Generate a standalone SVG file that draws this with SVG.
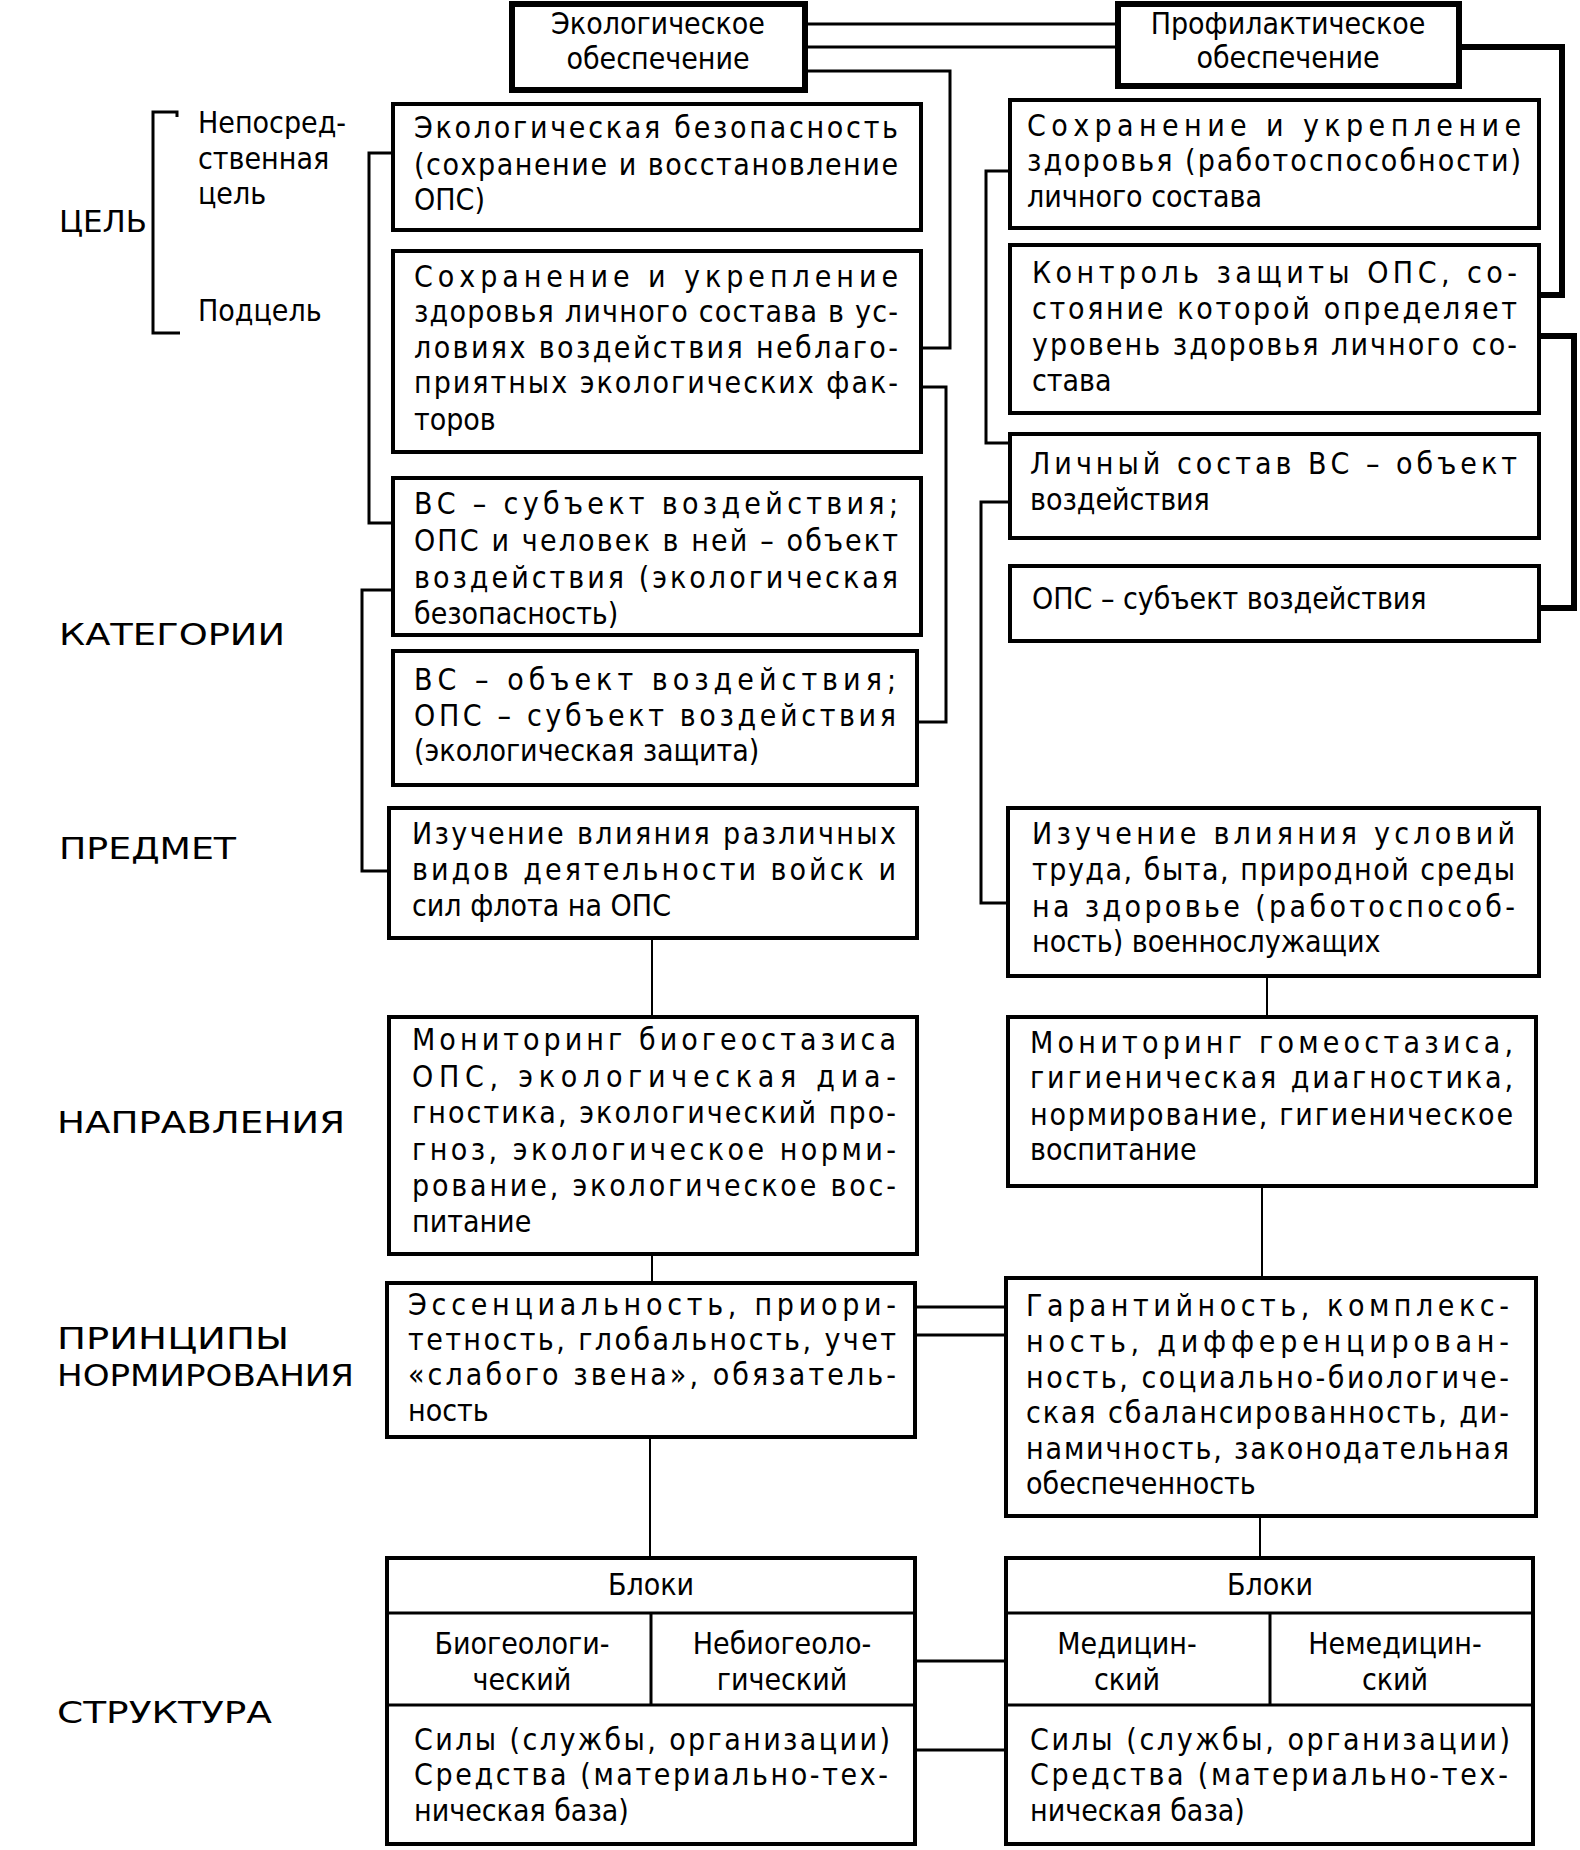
<svg xmlns="http://www.w3.org/2000/svg" width="1580" height="1850" viewBox="0 0 1580 1850">
<style>
.box{fill:#fff;stroke:#000;stroke-width:4}
.hbox{fill:#fff;stroke:#000;stroke-width:6}
.t{font-family:"Liberation Sans Narrow","DejaVu Sans Condensed","Liberation Sans",sans-serif;font-size:30px;fill:#000}
.c{text-anchor:middle}
.lbl{font-family:"Liberation Sans Narrow","DejaVu Sans Condensed","Liberation Sans",sans-serif;font-size:30px;fill:#000}
.ln{stroke:#000;fill:none;stroke-width:3}
.thin{stroke:#000;fill:none;stroke-width:2}
.thick{stroke:#000;fill:none;stroke-width:6}
</style>
<rect width="1580" height="1850" fill="#fff"/>

<g id="connectors">
<!-- top links -->
<line class="ln" x1="805" y1="24" x2="1118" y2="24"/>
<line class="ln" x1="805" y1="47" x2="1118" y2="47"/>
<polyline class="ln" points="805,71 950,71 950,348 921,348"/>
<polyline class="thick" points="1459,47 1562,47 1562,295 1539,295"/>
<polyline class="thick" points="1539,336 1574,336 1574,608 1539,608"/>
<!-- left column brackets -->
<polyline class="ln" points="393,153 369,153 369,523 393,523"/>
<polyline class="ln" points="393,590 362,590 362,871 389,871"/>
<polyline class="ln" points="921,387 946,387 946,722 917,722"/>
<!-- right column brackets -->
<polyline class="ln" points="1010,171 986,171 986,443 1010,443"/>
<polyline class="ln" points="1010,502 981,502 981,903 1008,903"/>
<!-- verticals -->
<line class="thin" x1="652" y1="938" x2="652" y2="1017"/>
<line class="thin" x1="652" y1="1254" x2="652" y2="1283"/>
<line class="thin" x1="650" y1="1437" x2="650" y2="1558"/>
<line class="thin" x1="1267" y1="976" x2="1267" y2="1017"/>
<line class="thin" x1="1262" y1="1186" x2="1262" y2="1278"/>
<line class="thin" x1="1260" y1="1516" x2="1260" y2="1558"/>
<!-- horizontals -->
<line class="ln" x1="915" y1="1307" x2="1006" y2="1307"/>
<line class="ln" x1="915" y1="1335" x2="1006" y2="1335"/>
<line class="ln" x1="915" y1="1661" x2="1006" y2="1661"/>
<line class="ln" x1="915" y1="1750" x2="1006" y2="1750"/>
<!-- goal bracket -->
<polyline class="ln" points="177,117 177,112 153,112 153,333 180,333"/>
</g>

<g id="labels">
<text class="lbl" x="59" y="232" textLength="88" lengthAdjust="spacingAndGlyphs">ЦЕЛЬ</text>
<text class="t" x="198" y="133">Непосред-</text>
<text class="t" x="198" y="169">ственная</text>
<text class="t" x="198" y="204">цель</text>
<text class="t" x="198" y="321">Подцель</text>
<text class="lbl" x="59" y="645" textLength="226" lengthAdjust="spacingAndGlyphs">КАТЕГОРИИ</text>
<text class="lbl" x="59" y="859" textLength="177" lengthAdjust="spacingAndGlyphs">ПРЕДМЕТ</text>
<text class="lbl" x="57" y="1133" textLength="288" lengthAdjust="spacingAndGlyphs">НАПРАВЛЕНИЯ</text>
<text class="lbl" x="57" y="1349" textLength="232" lengthAdjust="spacingAndGlyphs">ПРИНЦИПЫ</text>
<text class="lbl" x="57" y="1386" textLength="297" lengthAdjust="spacingAndGlyphs">НОРМИРОВАНИЯ</text>
<text class="lbl" x="57" y="1723" textLength="215" lengthAdjust="spacingAndGlyphs">СТРУКТУРА</text>
</g>

<g id="eco-top">
<rect class="hbox" x="512" y="4" width="293" height="86"/>
<text class="t c" x="658" y="34">Экологическое</text>
<text class="t c" x="658" y="69">обеспечение</text>
</g>

<g id="prof-top">
<rect class="hbox" x="1118" y="4" width="341" height="82"/>
<text class="t c" x="1288" y="34">Профилактическое</text>
<text class="t c" x="1288" y="68">обеспечение</text>
</g>

<g id="l1">
<rect class="box" x="393" y="104" width="528" height="126"/>
<text class="t" x="414" y="138" textLength="484" lengthAdjust="spacing">Экологическая безопасность</text>
<text class="t" x="414" y="175" textLength="484" lengthAdjust="spacing">(сохранение и восстановление</text>
<text class="t" x="414" y="210">ОПС)</text>
</g>

<g id="l2">
<rect class="box" x="393" y="251" width="528" height="201"/>
<text class="t" x="414" y="287" textLength="484" lengthAdjust="spacing">Сохранение и укрепление</text>
<text class="t" x="414" y="322" textLength="484" lengthAdjust="spacing">здоровья личного состава в ус-</text>
<text class="t" x="414" y="358" textLength="484" lengthAdjust="spacing">ловиях воздействия неблаго-</text>
<text class="t" x="414" y="393" textLength="484" lengthAdjust="spacing">приятных экологических фак-</text>
<text class="t" x="414" y="430">торов</text>
</g>

<g id="l3">
<rect class="box" x="393" y="478" width="528" height="157"/>
<text class="t" x="414" y="514" textLength="484" lengthAdjust="spacing">ВС – субъект воздействия;</text>
<text class="t" x="414" y="551" textLength="484" lengthAdjust="spacing">ОПС и человек в ней – объект</text>
<text class="t" x="414" y="588" textLength="484" lengthAdjust="spacing">воздействия (экологическая</text>
<text class="t" x="414" y="624">безопасность)</text>
</g>

<g id="l4">
<rect class="box" x="393" y="651" width="524" height="134"/>
<text class="t" x="414" y="690" textLength="482" lengthAdjust="spacing">ВС – объект воздействия;</text>
<text class="t" x="414" y="726" textLength="482" lengthAdjust="spacing">ОПС – субъект воздействия</text>
<text class="t" x="414" y="761">(экологическая защита)</text>
</g>

<g id="l5">
<rect class="box" x="389" y="808" width="528" height="130"/>
<text class="t" x="412" y="844" textLength="484" lengthAdjust="spacing">Изучение влияния различных</text>
<text class="t" x="412" y="880" textLength="484" lengthAdjust="spacing">видов деятельности войск и</text>
<text class="t" x="412" y="916">сил флота на ОПС</text>
</g>

<g id="l6">
<rect class="box" x="389" y="1017" width="528" height="237"/>
<text class="t" x="412" y="1050" textLength="484" lengthAdjust="spacing">Мониторинг биогеостазиса</text>
<text class="t" x="412" y="1087" textLength="484" lengthAdjust="spacing">ОПС, экологическая диа-</text>
<text class="t" x="412" y="1123" textLength="484" lengthAdjust="spacing">гностика, экологический про-</text>
<text class="t" x="412" y="1160" textLength="484" lengthAdjust="spacing">гноз, экологическое норми-</text>
<text class="t" x="412" y="1196" textLength="484" lengthAdjust="spacing">рование, экологическое вос-</text>
<text class="t" x="412" y="1232">питание</text>
</g>

<g id="l7">
<rect class="box" x="387" y="1283" width="528" height="154"/>
<text class="t" x="408" y="1315" textLength="488" lengthAdjust="spacing">Эссенциальность, приори-</text>
<text class="t" x="408" y="1350" textLength="488" lengthAdjust="spacing">тетность, глобальность, учет</text>
<text class="t" x="408" y="1385" textLength="488" lengthAdjust="spacing">«слабого звена», обязатель-</text>
<text class="t" x="408" y="1421">ность</text>
</g>

<g id="l8">
<rect class="box" x="387" y="1558" width="528" height="286"/>
<line class="ln" x1="387" y1="1613" x2="915" y2="1613"/>
<line class="ln" x1="387" y1="1705" x2="915" y2="1705"/>
<line class="ln" x1="651" y1="1613" x2="651" y2="1705"/>
<text class="t c" x="651" y="1595">Блоки</text>
<text class="t c" x="522" y="1654">Биогеологи-</text>
<text class="t c" x="522" y="1690">ческий</text>
<text class="t c" x="782" y="1654">Небиогеоло-</text>
<text class="t c" x="782" y="1690">гический</text>
<text class="t" x="414" y="1750" textLength="476" lengthAdjust="spacing">Силы (службы, организации)</text>
<text class="t" x="414" y="1785" textLength="474" lengthAdjust="spacing">Средства (материально-тех-</text>
<text class="t" x="414" y="1821">ническая база)</text>
</g>

<g id="r1">
<rect class="box" x="1010" y="100" width="529" height="128"/>
<text class="t" x="1027" y="136" textLength="494" lengthAdjust="spacing">Сохранение и укрепление</text>
<text class="t" x="1027" y="171" textLength="494" lengthAdjust="spacing">здоровья (работоспособности)</text>
<text class="t" x="1027" y="207">личного состава</text>
</g>

<g id="r2">
<rect class="box" x="1010" y="245" width="529" height="168"/>
<text class="t" x="1032" y="283" textLength="485" lengthAdjust="spacing">Контроль защиты ОПС, со-</text>
<text class="t" x="1032" y="319" textLength="485" lengthAdjust="spacing">стояние которой определяет</text>
<text class="t" x="1032" y="355" textLength="485" lengthAdjust="spacing">уровень здоровья личного со-</text>
<text class="t" x="1032" y="391">става</text>
</g>

<g id="r3">
<rect class="box" x="1010" y="434" width="529" height="104"/>
<text class="t" x="1030" y="474" textLength="487" lengthAdjust="spacing">Личный состав ВС – объект</text>
<text class="t" x="1030" y="510">воздействия</text>
</g>

<g id="r4">
<rect class="box" x="1010" y="566" width="529" height="75"/>
<text class="t" x="1032" y="609">ОПС – субъект воздействия</text>
</g>

<g id="r5">
<rect class="box" x="1008" y="808" width="531" height="168"/>
<text class="t" x="1032" y="844" textLength="483" lengthAdjust="spacing">Изучение влияния условий</text>
<text class="t" x="1032" y="880" textLength="483" lengthAdjust="spacing">труда, быта, природной среды</text>
<text class="t" x="1032" y="917" textLength="483" lengthAdjust="spacing">на здоровье (работоспособ-</text>
<text class="t" x="1032" y="952">ность) военнослужащих</text>
</g>

<g id="r6">
<rect class="box" x="1008" y="1017" width="528" height="169"/>
<text class="t" x="1030" y="1053" textLength="483" lengthAdjust="spacing">Мониторинг гомеостазиса,</text>
<text class="t" x="1030" y="1088" textLength="483" lengthAdjust="spacing">гигиеническая диагностика,</text>
<text class="t" x="1030" y="1125" textLength="483" lengthAdjust="spacing">нормирование, гигиеническое</text>
<text class="t" x="1030" y="1160">воспитание</text>
</g>

<g id="r7">
<rect class="box" x="1006" y="1278" width="530" height="238"/>
<text class="t" x="1026" y="1316" textLength="483" lengthAdjust="spacing">Гарантийность, комплекс-</text>
<text class="t" x="1026" y="1352" textLength="483" lengthAdjust="spacing">ность, дифференцирован-</text>
<text class="t" x="1026" y="1388" textLength="483" lengthAdjust="spacing">ность, социально-биологиче-</text>
<text class="t" x="1026" y="1423" textLength="483" lengthAdjust="spacing">ская сбалансированность, ди-</text>
<text class="t" x="1026" y="1459" textLength="483" lengthAdjust="spacing">намичность, законодательная</text>
<text class="t" x="1026" y="1494">обеспеченность</text>
</g>

<g id="r8">
<rect class="box" x="1006" y="1558" width="527" height="286"/>
<line class="ln" x1="1006" y1="1613" x2="1533" y2="1613"/>
<line class="ln" x1="1006" y1="1705" x2="1533" y2="1705"/>
<line class="ln" x1="1270" y1="1613" x2="1270" y2="1705"/>
<text class="t c" x="1270" y="1595">Блоки</text>
<text class="t c" x="1127" y="1654">Медицин-</text>
<text class="t c" x="1127" y="1690">ский</text>
<text class="t c" x="1395" y="1654">Немедицин-</text>
<text class="t c" x="1395" y="1690">ский</text>
<text class="t" x="1030" y="1750" textLength="480" lengthAdjust="spacing">Силы (службы, организации)</text>
<text class="t" x="1030" y="1785" textLength="478" lengthAdjust="spacing">Средства (материально-тех-</text>
<text class="t" x="1030" y="1821">ническая база)</text>
</g>
</svg>
